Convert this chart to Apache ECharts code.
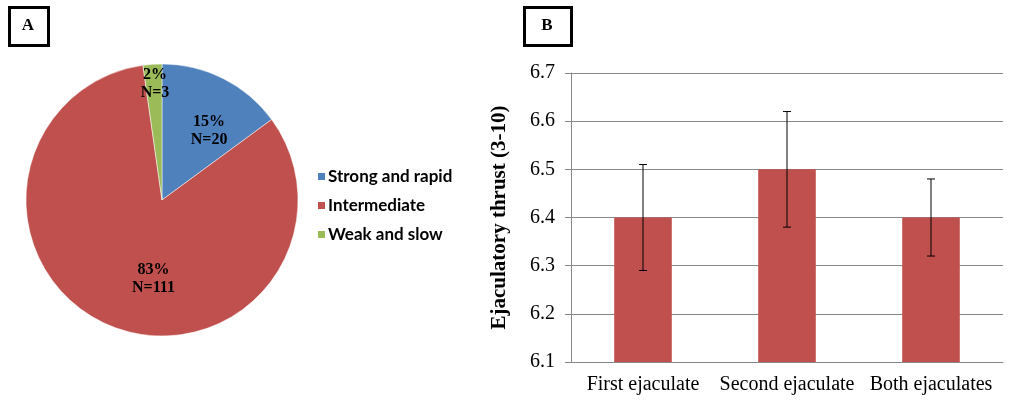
<!DOCTYPE html>
<html><head><meta charset="utf-8">
<script src="https://cdn.jsdelivr.net/npm/echarts@6/dist/echarts.min.js"></script>
<style>html,body{margin:0;padding:0;background:#fff}#c{width:1015px;height:403px}</style>
</head><body><div id="c"></div>
<script>
const pieNames = ['Strong and rapid', 'Intermediate', 'Weak and slow'];
const pieCounts = [20, 111, 3];
const piePct = ['15%', '83%', '2%'];
const pieColors = ['#4F81BD', '#C0504D', '#9BBB59'];

const barCats = ['First ejaculate', 'Second ejaculate', 'Both ejaculates'];
const barMeans = [6.4, 6.5, 6.4];
const errLow = [6.29, 6.38, 6.32];
const errHigh = [6.51, 6.62, 6.48];
const yTicks = [6.1, 6.2, 6.3, 6.4, 6.5, 6.6, 6.7];

const labelShift = [[15, -6], [19, 13], [-2, -45]];

const chart = echarts.init(document.getElementById('c'), null, {renderer: 'canvas'});
const serif = 'Liberation Serif';
chart.setOption({
  animation: false,
  legend: {
    orient: 'vertical', left: 311, top: 163, itemWidth: 9, itemHeight: 9, itemGap: 12,
    icon: 'rect', data: pieNames,
    textStyle: {fontFamily: 'Lato', fontWeight: 'bold', fontSize: 17, color: '#000', padding: [0, 0, 0, -3]}
  },
  grid: {left: 571, right: 12, top: 73, bottom: 41},
  xAxis: {
    type: 'category', data: barCats,
    axisTick: {show: false},
    axisLine: {lineStyle: {color: '#888'}},
    axisLabel: {fontFamily: serif, fontSize: 20, color: '#000', margin: 13, interval: 0, hideOverlap: false}
  },
  yAxis: {
    type: 'value', min: 6.1, max: 6.7, interval: 0.1,
    name: 'Ejaculatory thrust (3-10)', nameLocation: 'middle', nameGap: 61,
    nameTextStyle: {fontFamily: serif, fontWeight: 'bold', fontSize: 21, color: '#000'},
    axisLine: {show: true, lineStyle: {color: '#888'}},
    axisTick: {show: true, length: 6, lineStyle: {color: '#888'}},
    splitLine: {lineStyle: {color: '#888'}},
    axisLabel: {fontFamily: serif, fontSize: 20, color: '#000', margin: 16,
      formatter: v => { const t = yTicks.find(x => Math.abs(x - v) < 1e-6); return t !== undefined ? t.toFixed(1) : ''; }}
  },
  series: [
    {
      type: 'pie', center: [162, 200], radius: 136, startAngle: 90, clockwise: true,
      itemStyle: {borderColor: '#fff', borderWidth: 0.5},
      label: {position: 'inside', fontFamily: serif, fontWeight: 'bold', fontSize: 16, color: '#000', lineHeight: 18,
        formatter: p => piePct[p.dataIndex] + '\nN=' + pieCounts[p.dataIndex]},
      labelLayout: p => ({dx: labelShift[p.dataIndex][0], dy: labelShift[p.dataIndex][1]}),
      emphasis: {disabled: true},
      data: pieNames.map((n, i) => ({name: n, value: pieCounts[i], itemStyle: {color: pieColors[i]}}))
    },
    {
      type: 'bar', data: barMeans, barWidth: '40%', itemStyle: {color: '#C0504D'}
    },
    {
      type: 'custom',
      data: barCats.map((c, i) => [i, errLow[i], errHigh[i]]),
      renderItem: (params, api) => {
        const lo = api.coord([api.value(0), api.value(1)]);
        const hi = api.coord([api.value(0), api.value(2)]);
        const w = 4;
        const st = {stroke: '#000', lineWidth: 1};
        return {type: 'group', children: [
          {type: 'line', shape: {x1: lo[0], y1: lo[1], x2: hi[0], y2: hi[1]}, style: st},
          {type: 'line', shape: {x1: lo[0] - w, y1: lo[1], x2: lo[0] + w, y2: lo[1]}, style: st},
          {type: 'line', shape: {x1: hi[0] - w, y1: hi[1], x2: hi[0] + w, y2: hi[1]}, style: st}
        ]};
      },
      z: 5
    }
  ],
  graphic: [
    {type: 'rect', left: 8, top: 6, shape: {width: 39, height: 38}, style: {fill: '#fff', stroke: '#000', lineWidth: 3}},
    {type: 'text', x: 28, y: 26, style: {text: 'A', font: 'bold 17px "Liberation Serif"', fill: '#000', align: 'center', verticalAlign: 'middle'}},
    {type: 'rect', left: 523, top: 6, shape: {width: 47, height: 38}, style: {fill: '#fff', stroke: '#000', lineWidth: 3}},
    {type: 'text', x: 547, y: 26, style: {text: 'B', font: 'bold 17px "Liberation Serif"', fill: '#000', align: 'center', verticalAlign: 'middle'}}
  ]
});
</script></body></html>
